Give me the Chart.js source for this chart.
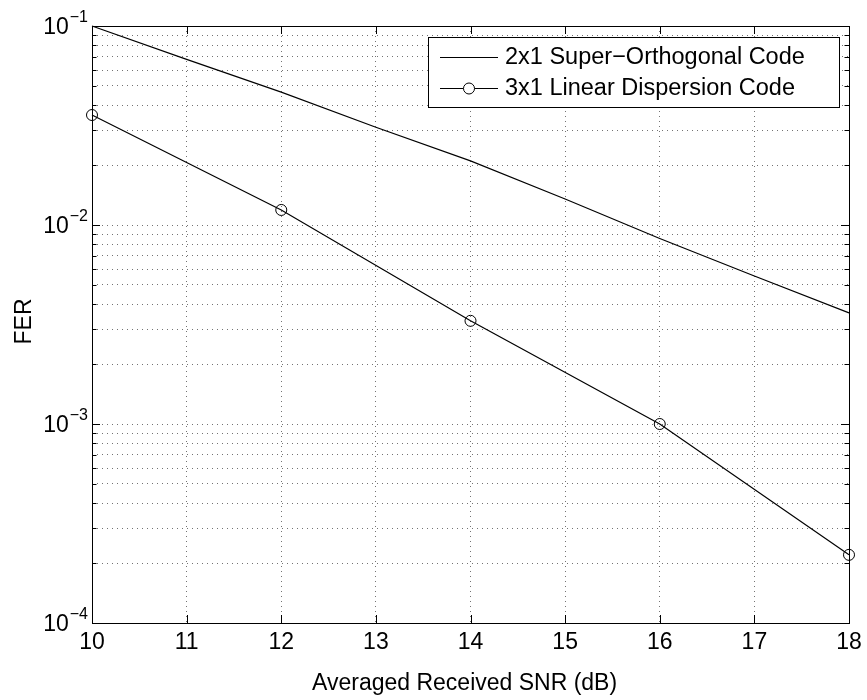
<!DOCTYPE html>
<html>
<head>
<meta charset="utf-8">
<script src="https://cdn.jsdelivr.net/npm/chart.js@4.4.0/dist/chart.umd.min.js"></script>
<style>
    html, body { margin: 0; padding: 0; background: #ffffff; }
    #wrap { width: 867px; height: 700px; }
</style>
</head>
<body>
<div id="wrap"><canvas id="fer-chart" width="867" height="700"></canvas></div>
<script>
// Values
const snrValues = [10, 11, 12, 13, 14, 15, 16, 17, 18];
const superOrthFer = [0.1, 0.068, 0.0465, 0.031, 0.021, 0.0135, 0.00855, 0.00554, 0.00362];
const ldcSnr = [10, 12, 14, 16, 18];
const ldcFer = [0.0357, 0.0119, 0.0033, 0.001, 0.00022];
const seriesLabels = ['2x1 Super\u2212Orthogonal Code', '3x1 Linear Dispersion Code'];

// Axis ticks
const xTicks = [10, 11, 12, 13, 14, 15, 16, 17, 18];
const yDecadeExps = [-4, -3, -2, -1];
const yMinorSteps = [2, 3, 4, 5, 6, 7, 8, 9];
const xTitle = 'Averaged Received SNR (dB)';
const yTitle = 'FER';

const FONT = '"Liberation Sans", Arial, Helvetica, sans-serif';

// Build tick values for the log axis (decades plus 2..9 minors)
function buildLogTicks() {
    const ticks = [];
    yDecadeExps.forEach((e, i) => {
        const base = Math.pow(10, e);
        ticks.push({ value: base, major: true });
        if (i < yDecadeExps.length - 1) {
            yMinorSteps.forEach(m => ticks.push({ value: m * base, major: false }));
        }
    });
    return ticks;
}

// Frame, inside ticks, labels and legend drawn in the MATLAB style
const matlabAxes = {
    id: 'matlabAxes',
    afterDatasetsDraw(chart) {
        const ctx = chart.ctx;
        const area = chart.chartArea;
        const xs = chart.scales.x;
        const ys = chart.scales.y;
        ctx.save();
        ctx.strokeStyle = '#000';
        ctx.lineWidth = 1;

        // box
        ctx.strokeRect(Math.round(area.left) + 0.5, Math.round(area.top) + 0.5,
            Math.round(area.right - area.left), Math.round(area.bottom - area.top));

        // x ticks, bottom and top, pointing inward
        ctx.beginPath();
        xTicks.forEach(v => {
            const px = Math.round(xs.getPixelForValue(v)) + 0.5;
            ctx.moveTo(px, area.bottom);
            ctx.lineTo(px, area.bottom - 8);
            ctx.moveTo(px, area.top);
            ctx.lineTo(px, area.top + 8);
        });
        // y ticks, left and right
        buildLogTicks().forEach(t => {
            const py = Math.round(ys.getPixelForValue(t.value)) + 0.5;
            const len = t.major ? 8 : 4.5;
            ctx.moveTo(area.left, py);
            ctx.lineTo(area.left + len, py);
            ctx.moveTo(area.right, py);
            ctx.lineTo(area.right - len, py);
        });
        ctx.stroke();

        // x tick labels
        ctx.fillStyle = '#000';
        ctx.font = '23px ' + FONT;
        ctx.textAlign = 'center';
        ctx.textBaseline = 'alphabetic';
        xTicks.forEach(v => {
            ctx.fillText(String(v), xs.getPixelForValue(v), area.bottom + 26);
        });

        // y tick labels: 10 with superscript exponent
        yDecadeExps.forEach(e => {
            const py = ys.getPixelForValue(Math.pow(10, e));
            const right = area.left - 4;
            const sup = '\u2212' + Math.abs(e);
            ctx.font = '16px ' + FONT;
            ctx.textAlign = 'right';
            const supW = ctx.measureText(sup).width;
            ctx.fillText(sup, right, py - 4);
            ctx.font = '23px ' + FONT;
            ctx.fillText('10', right - supW - 1, py + 8);
        });

        // axis titles
        ctx.font = '23px ' + FONT;
        ctx.textAlign = 'left';
        ctx.fillText(xTitle, 312, 690);
        ctx.save();
        ctx.translate(31, (area.top + area.bottom) / 2 - 3);
        ctx.rotate(-Math.PI / 2);
        ctx.textAlign = 'center';
        ctx.fillText(yTitle, 0, 0);
        ctx.restore();

        ctx.restore();
    },
    afterDraw(chart) {
        const ctx = chart.ctx;
        const box = { left: 428, top: 37, width: 411, height: 70 };
        const rows = [57, 88];
        ctx.save();
        ctx.fillStyle = '#fff';
        ctx.fillRect(box.left, box.top, box.width, box.height);
        ctx.strokeStyle = '#000';
        ctx.lineWidth = 1;
        ctx.strokeRect(box.left + 0.5, box.top + 0.5, box.width, box.height);

        chart.data.datasets.forEach((ds, i) => {
            const y = rows[i] + 0.5;
            ctx.lineWidth = ds.borderWidth;
            ctx.beginPath();
            ctx.moveTo(440, y);
            ctx.lineTo(498, y);
            ctx.stroke();
            if (ds.pointRadius > 0) {
                ctx.lineWidth = 1;
                ctx.beginPath();
                ctx.arc(469, y, ds.pointRadius, 0, Math.PI * 2);
                ctx.fillStyle = '#fff';
                ctx.fill();
                ctx.stroke();
            }
            ctx.fillStyle = '#000';
            ctx.font = '23.5px ' + FONT;
            ctx.textAlign = 'left';
            ctx.textBaseline = 'middle';
            ctx.fillText(ds.label, 505, rows[i] + 1);
        });
        ctx.restore();
    }
};

const gridStyle = {
    display: true,
    color: 'rgba(0,0,0,0.55)',
    lineWidth: 1,
    drawTicks: false
};

const ctx = document.getElementById('fer-chart').getContext('2d');
const ferChart = new Chart(ctx, {
    type: 'line',
    data: {
        datasets: [{
            label: seriesLabels[0],
            data: snrValues.map((x, i) => ({ x: x, y: superOrthFer[i] })),
            borderColor: '#000',
            borderWidth: 1.2,
            pointRadius: 0,
            tension: 0,
            clip: false
        }, {
            label: seriesLabels[1],
            data: ldcSnr.map((x, i) => ({ x: x, y: ldcFer[i] })),
            borderColor: '#000',
            borderWidth: 1.2,
            pointRadius: 5.5,
            pointStyle: 'circle',
            pointBorderColor: '#000',
            pointBorderWidth: 1,
            pointBackgroundColor: 'rgba(0,0,0,0)',
            tension: 0,
            clip: false
        }]
    },
    options: {
        responsive: false,
        animation: false,
        devicePixelRatio: 1,
        layout: {
            padding: { left: 92, right: 18, top: 26, bottom: 77 }
        },
        plugins: {
            legend: { display: false },
            tooltip: { enabled: false }
        },
        scales: {
            x: {
                type: 'linear',
                min: 10,
                max: 18,
                afterBuildTicks: scale => {
                    scale.ticks = xTicks.map(v => ({ value: v }));
                },
                ticks: { display: false },
                grid: gridStyle,
                border: { display: false, dash: [1, 4] },
                title: { display: false }
            },
            y: {
                type: 'logarithmic',
                min: 1e-4,
                max: 1e-1,
                afterBuildTicks: scale => {
                    scale.ticks = buildLogTicks();
                },
                ticks: { display: false },
                grid: gridStyle,
                border: { display: false, dash: [1, 4] },
                title: { display: false }
            }
        }
    },
    plugins: [matlabAxes]
});
</script>
</body>
</html>
